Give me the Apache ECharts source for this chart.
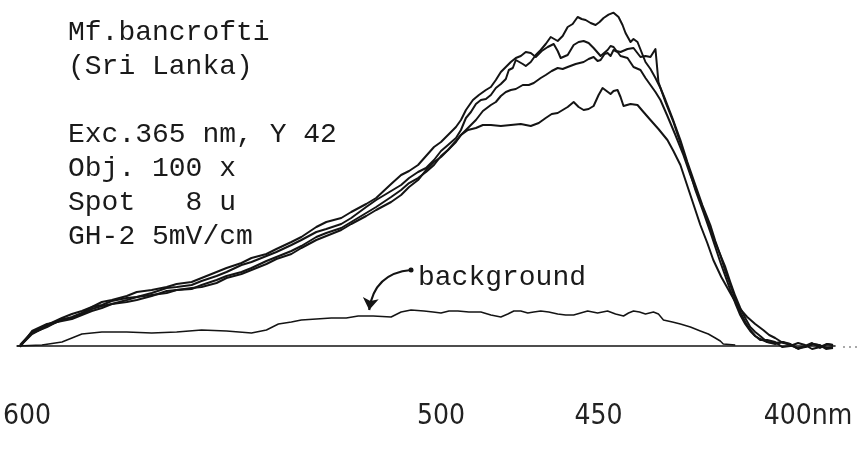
<!DOCTYPE html>
<html><head><meta charset="utf-8">
<script src="https://cdn.jsdelivr.net/npm/echarts@6/dist/echarts.min.js"></script>
<style>html,body{margin:0;padding:0;background:#fff}#c{width:858px;height:454px}</style>
</head><body><div id="c"></div>
<script>
// x: recorder-chart position (arbitrary units along the scan), y: signal (arbitrary units)
const tickPositions = [2, 85, 116.6, 158.6];
const tickLabels = ['600', '500', '450', '400nm'];

const curveA = [[0.6,0.3],[3,4.2],[6,6.3],[9,8.4],[11,9.6],[13,10.5],[15,11.7],[17,12.3],[19,13.5],[22,14.4],[24,14.7],[27,15.9],[30,17.4],[32,17.7],[35,18.3],[37,19.5],[40,21],[42,22.2],[45,24.3],[47,25.2],[50,27],[52,28.2],[55,30.3],[57,31.8],[60,34.2],[62,35.1],[65,36.6],[67,38.4],[70,41.7],[72,43.8],[75,46.5],[77,48.3],[78.6,50.4],[80.4,52.2],[82,53.4],[83.6,55.8],[85,58.5],[86.4,60.3],[88,62.4],[89,64.8],[90,68.4],[91,70.2],[92,72.6],[93,73.8],[94,74.1],[95,75.3],[96,77.4],[97,78.6],[98,80.1],[98.6,82.8],[99.4,83.4],[100,85.8],[101.4,84.6],[102,84],[103,85.2],[104,87.3],[105,88.8],[106,90.6],[107,92.7],[108.4,91.5],[109.4,93],[110.4,95.7],[111.4,96.6],[112.4,98.7],[113.2,98.1],[114,97.8],[115,96.9],[116,96.3],[116.8,97.2],[117.6,98.4],[118.6,99.4],[119.6,100],[120.6,98.7],[121.4,96.3],[122,93.9],[123,91.2],[123.6,92.1],[124.4,91.2],[125.2,88.2],[126,85.2],[127,83.1],[128,80.4],[129,77.4],[130,73.8],[131.4,68.4],[133,61.8],[134.4,55.2],[136,48.3],[137.4,42.3],[139,36.3],[140,31.5],[141,27.3],[142,22.5],[143,18.3],[144,14.1],[145,10.2],[146,7.2],[147,4.8],[148,3],[149,2.1],[150.4,1.2],[152,0.9],[153.4,1.2],[155,0.3],[156.4,-0.6],[158,-0.3],[159.6,0.6],[161,0.2],[162.4,-0.6],[163.6,-0.3]];
const curveB = [[0.6,0],[3,3.6],[6,6],[9,7.8],[11,8.7],[13,9.9],[15,11.7],[17,13.2],[19,13.8],[22,15],[24,16.2],[27,16.8],[30,17.7],[32,18.6],[35,19.2],[37,20.4],[40,22.2],[42,23.4],[45,24.9],[47,26.4],[50,27.6],[52,29.1],[55,31.2],[57,32.7],[60,35.7],[62,37.2],[65,38.4],[67,40.2],[70,42.6],[72,44.4],[75,48.6],[77,51.3],[78.6,52.5],[80.4,54.3],[82,57],[83.6,59.7],[85,61.2],[86.4,63.3],[88,65.7],[89,67.8],[90,70.8],[91.4,73.8],[92.6,75.3],[94,76.8],[95,77.7],[96,79.8],[97,82.2],[98,83.7],[99,85.2],[100,86.4],[101,87],[102,88.2],[103,87.9],[104,86.7],[105.2,88.5],[106.4,89.7],[107.6,90.6],[108.4,88.5],[109,86.4],[110.4,87.3],[111.6,90.3],[112.6,91.2],[113.6,91.5],[114.6,90.9],[115.6,89.4],[117,87],[118.4,88.8],[119,90],[119.6,89.7],[120.2,88.5],[121,88.2],[122.4,89.1],[123.6,89.4],[125,86.7],[126,87],[127,86.7],[128,89.1],[128.6,79.2],[130,73.2],[131.6,67.2],[133,60.9],[134.6,53.7],[136,46.8],[137.6,40.2],[139,34.2],[140,29.7],[141,25.2],[142,21],[143,16.8],[144,12.9],[145,9.3],[146,6.6],[147,4.5],[148,3],[149,1.8],[150.4,1.8],[152,1.2],[153.4,-0.3],[155,0],[156.6,0.9],[158,0.3],[159.4,-0.9],[161,-0.3],[162.4,0.6],[163.6,0.3]];
const curveC = [[0.6,-0.3],[3,4.5],[6,6.6],[9,7.5],[11,8.1],[13,9.3],[15,10.5],[17,11.4],[19,12.6],[22,13.2],[24,13.8],[27,15],[30,16.5],[32,16.8],[35,17.1],[37,18.3],[40,19.8],[42,21],[45,22.2],[47,23.4],[50,25.5],[52,26.7],[55,28.5],[57,30],[60,32.7],[62,33.9],[65,35.4],[67,37.2],[70,39.9],[72,41.7],[75,44.7],[77,46.8],[78.6,48.9],[80.4,50.4],[82,52.2],[83.6,54.3],[85,57],[86.4,58.8],[88,61.5],[89,63.3],[90.4,65.4],[92,67.8],[93.4,70.5],[95,72.3],[96,73.2],[97,75],[98,76.2],[99,76.8],[100,77.1],[101.4,78.3],[102.6,78.3],[103.6,78.9],[105,80.4],[106,81.3],[107.2,82.5],[108.4,83.4],[109.4,83.1],[110.4,83.7],[112,84.6],[113.6,85.2],[114.6,86.1],[115.6,86.7],[116.4,85.5],[117,85.8],[117.8,87.6],[118.4,87.9],[119,87],[119.6,88.8],[120.4,88.2],[121,87],[122.4,86.4],[123.6,83.7],[125,82.8],[126,80.4],[127,78.3],[128,76.2],[129,73.8],[130.4,69],[132,63.3],[133.6,57.3],[135,51.3],[136.6,45],[138,39.3],[139.4,33.3],[140.6,28.8],[142,23.7],[143,19.2],[144,15],[145,11.4],[146,8.4],[147,5.7],[148,4.2],[149,3],[150.4,1.2],[152,0.6],[153.6,1.2],[155,0.6],[156.4,-0.6],[158,-0.3],[159.6,0.6],[161,0.2],[162.2,-0.9],[163.6,-0.6]];
const curveD = [[0.6,0],[3,3.9],[6,5.7],[9,8.1],[11,8.4],[13,9.6],[15,11.1],[17,12],[19,12.6],[22,13.8],[24,14.7],[27,15.3],[30,15.9],[32,16.8],[35,17.4],[37,17.7],[40,18.9],[42,20.4],[45,21.6],[47,22.8],[50,24.6],[52,26.1],[55,27.6],[57,29.4],[60,31.8],[62,33],[65,34.8],[67,36.6],[70,39],[72,40.8],[75,43.2],[77,45.3],[78.6,47.7],[80.4,49.8],[82,52.8],[83.6,55.2],[85,56.7],[86.4,58.8],[88,61.2],[89,63.3],[90.4,64.8],[92,65.4],[93.4,66.3],[95,66.3],[97,66],[99,66.3],[101,66.6],[103,66],[104.6,66.9],[106,68.4],[107.2,69.6],[108.4,69.9],[109.4,70.8],[110.4,71.7],[111.6,73.2],[112.6,71.7],[113.6,70.8],[114.6,71.1],[115.6,72],[116.6,75.3],[117.4,77.4],[118.2,76.5],[119,75.6],[119.6,76.5],[120.4,76.8],[121,74.7],[121.6,72],[123,72.6],[124.4,72.3],[125.6,70.2],[127,67.8],[128.6,65.1],[130.4,61.8],[131.6,58.5],[133,54.3],[134,49.8],[135,45.3],[136,40.8],[137,36.3],[138.4,30.9],[139.6,25.8],[141.2,20.7],[143,15.9],[144.6,11.7],[146.4,8.7],[148,6.6],[149.6,4.8],[150.8,3.3],[152,2.4],[153.6,0.9],[155,0.6],[156.6,-0.9],[158,0],[159.4,0.9],[161,-0.6],[162.4,0.6],[163.6,0.3]];
const background = [[0,0],[5,0.3],[9,1.2],[11,2.4],[13,3.6],[17,4.2],[22,4.2],[27,3.9],[32,4.2],[37,4.8],[42,4.5],[47,3.9],[50,4.8],[52.4,6.6],[55,7.2],[57,7.8],[60,8.1],[63,8.4],[66,8.4],[68.4,9],[71.4,9],[75,8.7],[77,10.2],[79,10.8],[81.6,10.5],[83.4,10.2],[85,9.9],[86.6,10.5],[88.4,10.5],[90.6,10.2],[93,10.2],[95,9.3],[97,8.7],[98.4,9.6],[99.6,10.5],[101,10.5],[102.4,9.9],[103.6,10.2],[105,10.5],[106.6,10.2],[108.4,9.6],[110,9.3],[111.6,9.3],[113,9.9],[114.4,10.5],[115.4,10.2],[116.4,9.9],[117.4,10.2],[118.4,10.5],[120,9.6],[121.6,9],[122.6,9.9],[123.6,10.5],[124.8,10.2],[126,9.6],[127.6,10.2],[128.6,9.6],[129.6,7.8],[131.4,7.2],[133,6.6],[135,5.7],[137,4.5],[138.6,3.6],[140,2.4],[141,1.5],[141.6,0.6],[144,0.3]];
const arrowCoords = [[79,22.8],[70.6,10.8]];

const infoLines = ['Mf.bancrofti', '(Sri Lanka)', '', 'Exc.365 nm, Y 42', 'Obj. 100 x', 'Spot   8 u', 'GH-2 5mV/cm'];

const ink = '#141414';
const chart = echarts.init(document.getElementById('c'));
const lineSeries = (name, data, w) => ({
  name, type: 'line', data, showSymbol: false, symbol: 'none', smooth: false,
  clip: false, lineStyle: { color: ink, width: w, join: 'round' }, silent: true, animation: false
});
chart.setOption({
  backgroundColor: '#fff',
  animation: false,
  grid: { left: 15, right: 23, top: 12.67, bottom: 98 },
  xAxis: {
    type: 'value', min: 0, max: 164,
    axisLine: { show: true, onZero: true, lineStyle: { color: ink, width: 1.6 } },
    axisTick: { show: false },
    splitLine: { show: false },
    axisLabel: {
      customValues: tickPositions,
      formatter: v => { const i = tickPositions.indexOf(v); return i >= 0 ? tickLabels[i] : ''; },
      margin: 47, color: '#222', fontSize: 28,
      fontFamily: '"Liberation Sans Narrow", "DejaVu Sans Condensed", sans-serif'
    }
  },
  yAxis: { type: 'value', min: -3, max: 100, show: false, splitLine: { show: false } },
  series: [
    lineSeries('A', curveA, 2),
    lineSeries('B', curveB, 2),
    lineSeries('C', curveC, 2),
    lineSeries('D', curveD, 2),
    lineSeries('background', background, 1.5),
    {
      type: 'lines', coordinateSystem: 'cartesian2d', silent: true,
      symbol: ['circle', 'arrow'], symbolSize: [5, 12],
      lineStyle: { color: ink, width: 2.2, curveness: -0.4, opacity: 1 },
      data: [{ coords: arrowCoords }]
    }
  ],
  graphic: [
    {
      type: 'text', left: 68, top: 16,
      style: {
        text: infoLines.join('\n'), fill: '#1a1a1a',
        font: '28px "Liberation Mono", monospace', lineHeight: 34
      }
    },
    {
      type: 'text', left: 418, top: 264,
      style: { text: 'background', fill: '#1a1a1a', font: '28px "Liberation Mono", monospace' }
    },
    {
      type: 'line', shape: { x1: 843, y1: 347, x2: 858, y2: 347 },
      style: { stroke: '#555', lineWidth: 1.2, lineDash: [2, 4] }
    }
  ]
});
</script></body></html>
